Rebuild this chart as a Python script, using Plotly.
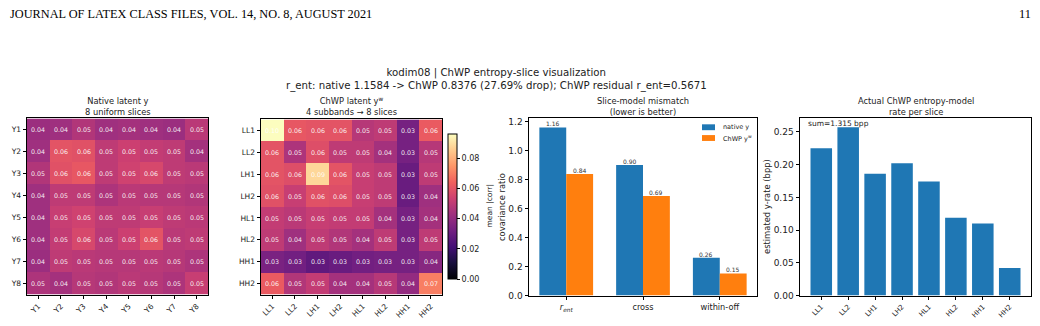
import plotly.graph_objects as go

W, H = 1040, 326
def fx(p): return p / W
def fy(p): return 1 - p / H

# ---------------- data ----------------
native_labels = ["Y1", "Y2", "Y3", "Y4", "Y5", "Y6", "Y7", "Y8"]
chwp_labels = ["LL1", "LL2", "LH1", "LH2", "HL1", "HL2", "HH1", "HH2"]

native_corr = [
    [0.042, 0.043, 0.047, 0.043, 0.044, 0.043, 0.042, 0.049],
    [0.043, 0.060, 0.059, 0.050, 0.053, 0.051, 0.050, 0.044],
    [0.047, 0.059, 0.061, 0.050, 0.054, 0.056, 0.050, 0.049],
    [0.043, 0.050, 0.050, 0.046, 0.049, 0.048, 0.048, 0.047],
    [0.043, 0.052, 0.054, 0.050, 0.050, 0.052, 0.050, 0.049],
    [0.043, 0.051, 0.056, 0.049, 0.053, 0.060, 0.049, 0.050],
    [0.042, 0.050, 0.049, 0.048, 0.048, 0.049, 0.048, 0.046],
    [0.046, 0.044, 0.048, 0.047, 0.049, 0.048, 0.046, 0.052],
]

chwp_corr = [
    [0.096, 0.061, 0.060, 0.060, 0.048, 0.050, 0.033, 0.062],
    [0.060, 0.046, 0.058, 0.050, 0.050, 0.044, 0.033, 0.048],
    [0.060, 0.058, 0.088, 0.060, 0.052, 0.050, 0.030, 0.050],
    [0.059, 0.052, 0.059, 0.058, 0.052, 0.050, 0.030, 0.043],
    [0.051, 0.049, 0.052, 0.051, 0.051, 0.044, 0.033, 0.044],
    [0.050, 0.043, 0.050, 0.047, 0.044, 0.050, 0.033, 0.050],
    [0.034, 0.032, 0.028, 0.030, 0.032, 0.033, 0.033, 0.037],
    [0.062, 0.047, 0.051, 0.044, 0.044, 0.048, 0.040, 0.070],
]

mismatch_ticks = ["<i>r</i><sub><i>ent</i></sub>", "cross", "within-off"]
mismatch_native = [1.1584, 0.90, 0.26]
mismatch_chwp = [0.8376, 0.686, 0.152]
chwp_residual = 0.5671
series_names = ["native y", "ChWP y<sup>w</sup>"]

rate_per_slice = [0.225, 0.257, 0.186, 0.202, 0.174, 0.119, 0.110, 0.042]

cbar_ticks = [0.0, 0.02, 0.04, 0.06, 0.08]

# ---------------- style ----------------
FONT = "DejaVu Sans"
BLUE = "#1f77b4"
ORANGE = "#ff7f0e"
TXT = "#222222"
BAR_W = 0.35
vmax = max(max(r) for r in chwp_corr)

fig = go.Figure()

common_axis = dict(showline=True, mirror=True, linecolor="black", linewidth=1,
                   ticks="outside", ticklen=3.5, tickwidth=1, tickcolor="black",
                   showgrid=False, zeroline=False)

cell_font = dict(size=6.3, color="rgba(255,255,255,0.9)", family=FONT)

# heatmap 1
fig.add_trace(go.Heatmap(
    z=native_corr, x=native_labels, y=native_labels, coloraxis="coloraxis",
    texttemplate="%{z:.2f}", textfont=cell_font,
    xaxis="x", yaxis="y", hoverinfo="skip"))

# heatmap 2
fig.add_trace(go.Heatmap(
    z=chwp_corr, x=chwp_labels, y=chwp_labels, coloraxis="coloraxis",
    texttemplate="%{z:.2f}", textfont=cell_font,
    xaxis="x2", yaxis="y2", hoverinfo="skip"))

# bar chart mismatch
idx3 = list(range(len(mismatch_ticks)))
fig.add_trace(go.Bar(
    x=idx3, y=mismatch_native, name=series_names[0], marker=dict(color=BLUE, line=dict(width=0)),
    width=BAR_W, offset=-BAR_W, xaxis="x3", yaxis="y3", showlegend=False))
fig.add_trace(go.Bar(
    x=idx3, y=mismatch_chwp, name=series_names[1], marker=dict(color=ORANGE, line=dict(width=0)),
    width=BAR_W, offset=0.0, xaxis="x3", yaxis="y3", showlegend=False))

# bar chart rates
idx4 = list(range(len(chwp_labels)))
fig.add_trace(go.Bar(
    x=idx4, y=rate_per_slice, marker=dict(color=BLUE, line=dict(width=0)), width=0.8,
    xaxis="x4", yaxis="y4", showlegend=False))

# ---------------- layout ----------------
tickf = dict(size=7.5, family=FONT, color=TXT)
tickf_bar = dict(size=9, family=FONT, color=TXT)

fig.update_layout(
    width=W, height=H, margin=dict(l=0, r=0, t=0, b=0),
    paper_bgcolor="white", plot_bgcolor="white",
    font=dict(family=FONT, color=TXT),
    barmode="overlay",
    showlegend=False,
    coloraxis=dict(
        colorscale="Magma", cmin=0, cmax=vmax,
        colorbar=dict(
            x=fx(448), xanchor="left", xpad=0, ypad=0,
            y=fy(209), yanchor="middle", len=148 / H, lenmode="fraction",
            thickness=9, thicknessmode="pixels",
            outlinecolor="black", outlinewidth=1,
            ticks="outside", ticklen=3, tickcolor="black",
            tickvals=cbar_ticks, ticktext=[f"{v:.2f}" for v in cbar_ticks],
            tickfont=dict(size=8, family=FONT, color=TXT))),
    xaxis=dict(domain=[fx(27), fx(208)], anchor="y", tickangle=-45, tickfont=tickf, **common_axis),
    yaxis=dict(domain=[fy(299), fy(119)], anchor="x", autorange="reversed", tickfont=tickf, **common_axis),
    xaxis2=dict(domain=[fx(261), fx(442)], anchor="y2", tickangle=-45, tickfont=tickf, **common_axis),
    yaxis2=dict(domain=[fy(299), fy(120)], anchor="x2", autorange="reversed", tickfont=tickf, **common_axis),
    xaxis3=dict(domain=[fx(529), fx(757)], anchor="y3", range=[-0.485, 2.485],
                tickvals=idx3, ticktext=mismatch_ticks, tickfont=dict(size=8.2, family=FONT, color=TXT),
                **common_axis),
    yaxis3=dict(domain=[fy(300), fy(119)], anchor="x3", range=[0, 1.22],
                tickvals=[0, 0.2, 0.4, 0.6, 0.8, 1.0, 1.2], tickformat=".1f",
                tickfont=tickf_bar, **common_axis),
    xaxis4=dict(domain=[fx(800), fx(1031)], anchor="y4", range=[-0.79, 7.79],
                tickvals=idx4, ticktext=chwp_labels, tickangle=-45,
                tickfont=dict(size=7, family=FONT, color=TXT), **common_axis),
    yaxis4=dict(domain=[fy(300), fy(119)], anchor="x4", range=[0, 0.2705],
                tickvals=[0, 0.05, 0.10, 0.15, 0.20, 0.25], tickformat=".2f",
                tickfont=tickf_bar, **common_axis),
)

drop = (mismatch_native[0] - mismatch_chwp[0]) / mismatch_native[0] * 100
anns = [
    dict(x=fx(8), y=fy(12), text="JOURNAL OF LATEX CLASS FILES, VOL. 14, NO. 8, AUGUST 2021",
         xanchor="left", yanchor="middle", font=dict(family="Liberation Serif", size=12.3, color="black")),
    dict(x=fx(1033), y=fy(12), text="11", xanchor="right", yanchor="middle",
         font=dict(family="Liberation Serif", size=12.3, color="black")),
    dict(x=fx(496), y=fy(79.5),
         text=(f"kodim08 | ChWP entropy-slice visualization<br>"
               f"r_ent: native {mismatch_native[0]:.4f} -> ChWP {mismatch_chwp[0]:.4f} "
               f"({drop:.2f}% drop); ChWP residual r_ent={chwp_residual:.4f}"),
         xanchor="center", yanchor="middle", font=dict(size=10.2, family=FONT, color=TXT)),
    dict(x=fx(117.5), y=fy(106.5), text="Native latent y<br>8 uniform slices",
         xanchor="center", yanchor="middle", font=dict(size=8.3, family=FONT, color=TXT)),
    dict(x=fx(351.5), y=fy(106.5), text="ChWP latent y<sup>w</sup><br>4 subbands \u2192 8 slices",
         xanchor="center", yanchor="middle", font=dict(size=8.3, family=FONT, color=TXT)),
    dict(x=fx(643), y=fy(106.5), text="Slice-model mismatch<br>(lower is better)",
         xanchor="center", yanchor="middle", font=dict(size=8.3, family=FONT, color=TXT)),
    dict(x=fx(915.5), y=fy(106.5), text="Actual ChWP entropy-model<br>rate per slice",
         xanchor="center", yanchor="middle", font=dict(size=8.3, family=FONT, color=TXT)),
    dict(x=fx(490), y=fy(209), text="mean |corr|", textangle=-90,
         xanchor="center", yanchor="middle", font=dict(size=7.5, family=FONT, color=TXT)),
    dict(x=fx(502), y=fy(209.5), text="covariance ratio", textangle=-90,
         xanchor="center", yanchor="middle", font=dict(size=8.4, family=FONT, color=TXT)),
    dict(x=fx(767), y=fy(209.5), text="estimated y-rate (bpp)", textangle=-90,
         xanchor="center", yanchor="middle", font=dict(size=8.4, family=FONT, color=TXT)),
    dict(x=fx(806), y=fy(124), text=f"sum={sum(rate_per_slice):.3f} bpp",
         xanchor="left", yanchor="middle", font=dict(size=7.5, family=FONT, color=TXT)),
]
# bar value labels (placed through the data axes)
for i, v in enumerate(mismatch_native):
    anns.append(dict(x=i - BAR_W / 2, y=v, xref="x3", yref="y3", text=f"{v:.2f}",
                     xanchor="center", yanchor="bottom", yshift=-2,
                     font=dict(size=6, family=FONT, color="#333")))
for i, v in enumerate(mismatch_chwp):
    anns.append(dict(x=i + BAR_W / 2, y=v, xref="x3", yref="y3", text=f"{v:.2f}",
                     xanchor="center", yanchor="bottom", yshift=-2,
                     font=dict(size=6, family=FONT, color="#333")))
# legend text
anns.append(dict(x=fx(721), y=fy(128), text=series_names[0], xanchor="left", yanchor="middle",
                 font=dict(size=6.5, family=FONT, color=TXT)))
anns.append(dict(x=fx(721), y=fy(139), text=series_names[1], xanchor="left", yanchor="middle",
                 font=dict(size=6.5, family=FONT, color=TXT)))
for a in anns:
    a.setdefault("xref", "paper")
    a.setdefault("yref", "paper")
    a["showarrow"] = False
fig.update_layout(annotations=anns)

# legend patches
shapes = [
    dict(type="rect", xref="paper", yref="paper", x0=fx(702), x1=fx(715), y0=fy(131), y1=fy(125),
         fillcolor=BLUE, line=dict(width=0)),
    dict(type="rect", xref="paper", yref="paper", x0=fx(702), x1=fx(715), y0=fy(142), y1=fy(136),
         fillcolor=ORANGE, line=dict(width=0)),
]
fig.update_layout(shapes=shapes)

fig.write_html("out.html")
